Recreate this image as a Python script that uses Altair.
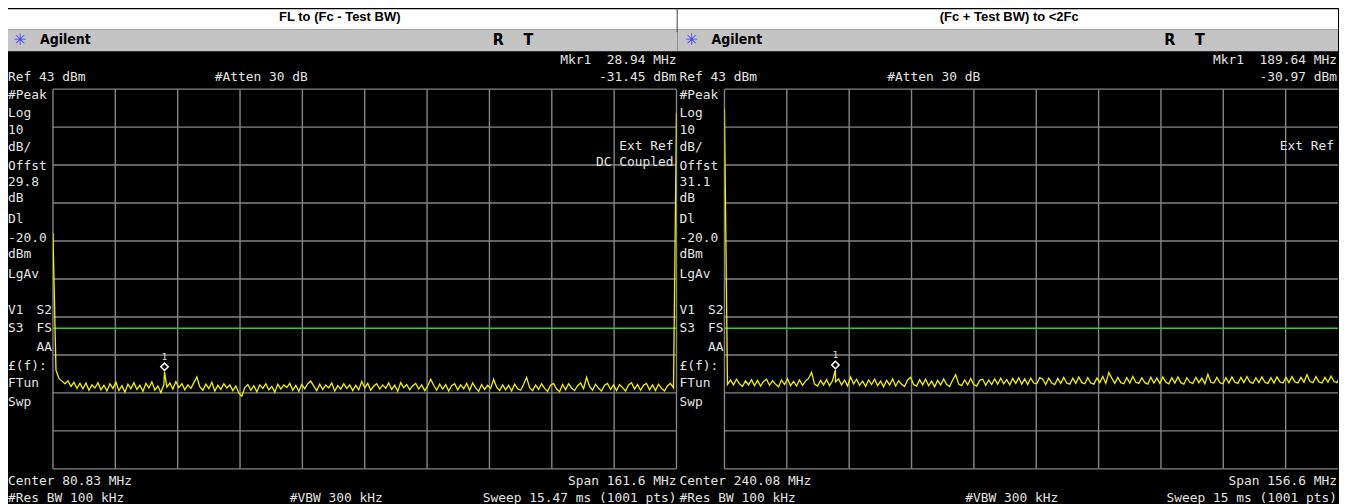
import altair as alt
import pandas as pd
import numpy as np

# ---------------- data ----------------
SUBTITLES = ["FL to (Fc - Test BW)", "(Fc + Test BW) to <2Fc"]

REF_TOP, REF_BOTTOM, DB_PER_DIV = 43, -57, 10
DISPLAY_LINE = -20.0

# left sweep
L_CENTER, L_SPAN = 80.83, 161.6
L_START, L_STOP = 0.03, 161.63
L_MKR = (28.94, -31.45)
L_TRACE = [
    5.1, -31.0, -33.2, -33.9, -34.6, -33.8, -35.3, -34.2, -35.8, -34.5,
    -35.9, -34.4, -36.3, -34.9, -35.7, -34.3, -36.2, -35.0, -36.5, -34.6,
    -35.8, -34.2, -36.4, -35.1, -36.8, -34.7, -35.9, -34.3, -36.1, -35.0,
    -36.6, -34.5, -35.7, -34.1, -36.3, -35.2, -36.9, -34.8, -35.5, -34.4,
    -36.0, -34.0, -35.6, -34.6, -36.2, -34.9, -35.8, -34.3, -32.8, -35.4,
    -36.3, -34.7, -35.9, -34.2, -36.5, -35.0, -36.1, -34.6, -35.7, -34.9,
    -36.4, -35.2, -37.0, -37.9, -35.6, -34.8, -36.3, -35.1, -36.7, -34.9,
    -35.8, -34.6, -36.2, -35.3, -36.8, -34.7, -36.0, -34.9, -35.6, -34.5,
    -36.3, -35.0, -36.6, -34.8, -35.9, -34.6, -33.9, -35.2, -36.4, -34.7,
    -36.1, -34.9, -35.7, -34.4, -36.5, -35.1, -36.0, -34.6, -35.8, -34.9,
    -36.4, -35.0, -36.2, -34.0, -35.7, -34.5, -36.3, -35.2, -34.6, -36.0,
    -34.9, -35.8, -34.4, -36.1, -35.0, -36.6, -34.3, -35.6, -34.8, -36.2,
    -35.1, -34.5, -36.0, -34.9, -36.4, -35.2, -33.4, -35.0, -36.3, -34.7,
    -36.0, -34.8, -36.5, -35.1, -34.6, -36.2, -34.9, -35.9, -34.5, -36.3,
    -34.4, -35.7, -36.6, -34.8, -36.1, -35.0, -35.8, -33.4, -35.5, -36.4,
    -34.9, -36.2, -35.0, -36.5, -34.7, -35.9, -36.3, -34.8, -32.9, -35.6,
    -36.4, -34.9, -36.1, -34.6, -35.8, -36.6, -35.0, -34.5, -36.0, -36.7,
    -34.8, -36.2, -34.6, -35.7, -36.4, -35.1, -34.4, -35.9, -32.9, -35.3,
    -36.3, -34.7, -35.8, -36.5, -35.0, -34.5, -36.1, -34.9, -36.4, -34.8,
    -35.6, -36.5, -34.9, -34.3, -36.0, -34.8, -36.3, -35.0, -34.5, -36.2,
    -34.9, -36.4, -34.7, -35.8, -36.5, -35.1, -34.5, -35.7, 36.7,
]

# right sweep
R_CENTER, R_SPAN = 240.08, 156.6
R_START, R_STOP = 161.78, 317.88
R_MKR = (189.64, -30.97)
R_TRACE = [
    37.7, -34.8, -33.6, -34.9, -33.4, -34.6, -35.3, -33.8, -34.9, -33.5,
    -35.1, -33.7, -35.2, -34.0, -33.4, -35.0, -33.8, -34.7, -35.4, -33.6,
    -34.8, -33.3, -35.1, -34.0, -35.2, -33.6, -35.0, -33.9, -33.2, -31.6,
    -34.7, -35.2, -33.7, -34.9, -33.5, -35.1, -33.8, -34.1, -33.3, -34.9,
    -33.6, -35.2, -32.8, -34.6, -33.4, -35.0, -33.9, -35.3, -33.6, -34.8,
    -33.4, -35.1, -33.9, -35.4, -33.7, -34.9, -33.3, -35.2, -33.8, -34.7,
    -35.3, -33.6, -32.9, -34.8, -35.2, -33.5, -34.9, -33.4, -35.1, -33.9,
    -35.4, -33.7, -34.9, -33.3, -34.8, -35.3, -33.6, -32.2, -34.7, -35.1,
    -33.6, -34.9, -33.2, -34.8, -35.2, -33.7, -33.4, -35.0, -33.6, -34.8,
    -33.3, -34.7, -33.1, -34.6, -33.5, -34.9, -33.2, -34.5, -33.0, -34.7,
    -33.3, -34.8, -33.1, -34.4, -34.6, -33.0, -33.4, -34.8, -33.1, -34.4,
    -34.8, -33.2, -34.5, -32.9, -34.4, -34.7, -33.1, -34.5, -32.8, -34.3,
    -34.6, -33.0, -34.4, -34.7, -33.1, -34.3, -32.7, -34.5, -31.6, -33.1,
    -34.5, -32.9, -34.3, -34.6, -33.0, -34.4, -32.7, -34.2, -34.5, -33.0,
    -34.3, -34.7, -32.9, -34.4, -33.1, -34.5, -32.8, -34.2, -34.6, -33.0,
    -34.4, -32.8, -34.3, -34.7, -33.0, -34.2, -34.5, -32.9, -34.3, -33.1,
    -34.6, -32.1, -34.2, -34.4, -32.9, -34.3, -34.6, -33.0, -34.4, -32.8,
    -34.2, -34.5, -32.9, -34.3, -32.7, -34.1, -34.5, -33.0, -34.3, -32.8,
    -34.2, -34.5, -33.0, -34.4, -32.8, -34.1, -34.4, -32.9, -34.3, -32.7,
    -34.1, -34.4, -32.9, -34.2, -32.2, -34.0, -34.3, -32.7, -34.1, -34.4,
    -32.9, -34.2, -32.6, -34.0, -34.3, -32.7, -34.0, -31.8,
]

# ---------------- styles ----------------
FG = "#e4e4e4"
GRID = "#858585"
YELLOW = "#f2f000"
GREEN = "#2fcb2f"
BAR = "#c4c4c4"
MONO = "DejaVu Sans Mono"
SANS = "Liberation Sans, Arial, sans-serif"
NARROW = "Liberation Sans Narrow, DejaVu Sans Condensed, Arial Narrow, sans-serif"
FS = 12.9
H = 380
PX_PER_DIV = 62.4
NB = "\u00a0"
ONE = alt.Data(values=[{"k": 0}])


def lbl(s, x, y, align="left", size=FS, color=FG, font=MONO, weight="normal"):
    return alt.Chart(ONE).mark_text(
        align=align, baseline="middle", font=font, fontSize=size,
        fontWeight=weight, color=color
    ).encode(x=alt.value(x), y=alt.value(y), text=alt.value(s))


def box(x1, x2, y1, y2, color):
    return alt.Chart(ONE).mark_rect(color=color).encode(
        x=alt.value(x1), x2=alt.value(x2), y=alt.value(y1), y2=alt.value(y2))


def panel(trace, f_start, f_stop, span, width, mkr, sub, sub_x, offst,
          center_txt, span_txt, sweep_txt, mkr_txt, mkr_val_txt,
          atten_x, vbw_x, rt_x, ext_lines, left_ext, right_edge, sep):
    freqs = np.linspace(f_start, f_stop, len(trace))
    mdf = pd.DataFrame({"f": [mkr[0]], "dbm": [mkr[1]]})
    df = pd.concat([pd.DataFrame({"f": freqs, "dbm": trace}), mdf]).sort_values("f")

    div = span / 10
    f_end = f_start + width / PX_PER_DIV * div   # visible part of the sweep
    xticks = [float(round(f_start + k * div, 4)) for k in range(11) if k * PX_PER_DIV <= width + 0.5]
    yticks = list(range(REF_BOTTOM, REF_TOP + 1, DB_PER_DIV))
    xs = alt.Scale(domain=[f_start, f_end], nice=False, zero=False)
    ys = alt.Scale(domain=[REF_BOTTOM, REF_TOP], nice=False, zero=False)

    layers = [
        box(left_ext, right_edge, -80, -60, "#ffffff"),
        box(left_ext, right_edge, -60, -38, BAR),
    ]
    if sep is not None:
        layers.append(alt.Chart(ONE).mark_rule(color="#000000", strokeWidth=1.5).encode(
            x=alt.value(sep), y=alt.value(-80), y2=alt.value(-57)))

    vgrid = alt.Chart(pd.DataFrame({"f": xticks})).mark_rule(color=GRID, strokeWidth=1.4).encode(
        x=alt.X("f:Q", scale=xs, axis=None))
    hgrid = alt.Chart(pd.DataFrame({"dbm": yticks})).mark_rule(color=GRID, strokeWidth=1.4).encode(
        y=alt.Y("dbm:Q", scale=ys, axis=None))
    dl = alt.Chart(ONE).mark_rule(color=GREEN, strokeWidth=1.5).encode(
        y=alt.datum(DISPLAY_LINE, scale=ys, axis=None))
    trace_layer = alt.Chart(df).mark_line(color=YELLOW, strokeWidth=1.3, clip=True).encode(
        x=alt.X("f:Q", scale=xs, axis=None),
        y=alt.Y("dbm:Q", scale=ys, axis=None),
        order="f:Q",
    )
    diamond = alt.Chart(mdf).mark_point(shape="diamond", filled=False, color="#ffffff",
                                        size=55, strokeWidth=1.5, yOffset=-5, opacity=1).encode(
        x=alt.X("f:Q", scale=xs, axis=None), y=alt.Y("dbm:Q", scale=ys, axis=None))
    one = alt.Chart(mdf).mark_text(text="1", color=FG, font=MONO, fontSize=9, dy=-15).encode(
        x=alt.X("f:Q", scale=xs, axis=None), y=alt.Y("dbm:Q", scale=ys, axis=None))

    layers += [vgrid, hgrid, dl, trace_layer, diamond, one]

    # header
    layers += [
        lbl(sub, sub_x, -72, align="center", size=13, color="#000000",
            font=SANS, weight="bold"),
        lbl("\u2733", -33, -49, align="center", size=16, color="#3d4bff", font="DejaVu Sans"),
        lbl("Agilent", -13, -49, size=14, color="#000000", font=NARROW, weight="bold"),
        lbl("R", rt_x, -49, size=16, color="#000000", font=NARROW, weight="bold"),
        lbl("T", rt_x + 31, -49, size=16, color="#000000", font=NARROW, weight="bold"),
        lbl(mkr_txt, right_edge - 1, -29, align="right"),
        lbl("Ref 43 dBm", -45, -12),
        lbl("#Atten 30 dB", atten_x, -12),
        lbl(mkr_val_txt, right_edge - 1, -12, align="right"),
    ]
    # left annotation column
    col = [("#Peak", 6), ("Log", 24), ("10", 41), ("dB/", 58), ("Offst", 77),
           (offst, 93), ("dB", 109), ("Dl", 130), ("-20.0", 149), ("dBm", 165),
           ("LgAv", 185), ("V1", 221), ("S3", 239), ("£(f):", 277),
           ("FTun", 294), ("Swp", 313)]
    for t, y in col:
        layers.append(lbl(t, -45, y))
    for t, y in [("S2", 221), ("FS", 239), ("AA", 258)]:
        layers.append(lbl(t, -1, y, align="right"))
    for t, y in ext_lines:
        layers.append(lbl(t, right_edge - 4, y, align="right"))
    # footer
    layers += [
        lbl(center_txt, -45, 392),
        lbl(span_txt, right_edge - 1, 392, align="right"),
        lbl("#Res BW 100 kHz", -45, 409),
        lbl("#VBW 300 kHz", vbw_x, 409),
        lbl(sweep_txt, right_edge - 1, 409, align="right"),
    ]
    return alt.layer(*layers).properties(width=width, height=H)


left = panel(L_TRACE, L_START, L_STOP, L_SPAN, 624, L_MKR, SUBTITLES[0], 287, "29.8",
             f"Center {L_CENTER:.2f} MHz", f"Span {L_SPAN} MHz", "Sweep 15.47 ms (1001 pts)",
             f"Mkr1{NB}{NB}{L_MKR[0]:.2f} MHz", f"{L_MKR[1]:.2f} dBm",
             162, 237, 440, [("Ext Ref", 57), ("DC Coupled", 73)], -45, 625, 625)

# the browser leaves only 1331 px for the chart, so the right screen is cut at 614 px
right = panel(R_TRACE, R_START, R_STOP, R_SPAN, 614, R_MKR, SUBTITLES[1], 285, "31.1",
              f"Center {R_CENTER:.2f} MHz", f"Span {R_SPAN} MHz", "Sweep 15 ms (1001 pts)",
              f"Mkr1{NB}{NB}{R_MKR[0]:.2f} MHz", f"{R_MKR[1]:.2f} dBm",
              163, 241, 440, [("Ext Ref", 57)], -47, 614, None)

chart = alt.hconcat(left, right, spacing=48, bounds="flush").properties(
    padding=0
).configure(background="#000000").configure_view(strokeWidth=0)

chart.save("out.html", embed_options={"renderer": "svg", "actions": False})
